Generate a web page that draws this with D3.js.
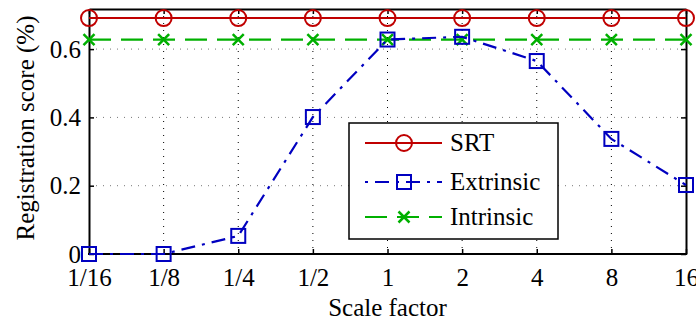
<!DOCTYPE html>
<html><head><meta charset="utf-8">
<script src="https://cdn.jsdelivr.net/npm/d3@7"></script>
<style>body{margin:0;background:#fff}svg{display:block}</style>
</head><body><svg id="c" width="696" height="322"></svg>
<script>
const categories = ["1/16","1/8","1/4","1/2","1","2","4","8","16"];
const srt = [0.691,0.691,0.691,0.691,0.691,0.691,0.691,0.691,0.691];
const extrinsic = [0,0,0.053,0.401,0.628,0.636,0.565,0.337,0.202];
const intrinsic = [0.628,0.628,0.628,0.628,0.628,0.628,0.628,0.628,0.628];
const yTicks = [0,0.2,0.4,0.6];
const seriesNames = ["SRT","Extrinsic","Intrinsic"];
const colors = ["#c00000","#0000c0","#00b000"];
const FONT = "Liberation Serif";
const FS = 25;

const svg = d3.select("#c");
const L=89,R=686,T=9,B=254;
const x = d3.scalePoint().domain(categories).range([L,R]);
const y = d3.scaleLinear().domain([0,0.7174]).range([B,T]);

// grid
const g = svg.append("g");
g.selectAll(".vg").data(categories.slice(1,-1)).join("line")
  .attr("x1",d=>x(d)).attr("x2",d=>x(d)).attr("y1",T).attr("y2",B)
  .attr("stroke","#000").attr("stroke-width",1).attr("stroke-dasharray","1,6");
g.selectAll(".hg").data(yTicks.slice(1)).join("line")
  .attr("x1",L).attr("x2",R).attr("y1",d=>y(d)).attr("y2",d=>y(d))
  .attr("stroke","#777").attr("stroke-width",1).attr("stroke-dasharray","1,6");

// axes
const xa = svg.append("g").attr("transform",`translate(0,${B})`)
  .call(d3.axisBottom(x).tickSizeInner(-5).tickSizeOuter(0).tickPadding(12));
const xt = svg.append("g").attr("transform",`translate(0,${T})`)
  .call(d3.axisTop(x).tickSizeInner(-5).tickSizeOuter(0).tickFormat(""));
const ya = svg.append("g").attr("transform",`translate(${L},0)`)
  .call(d3.axisLeft(y).tickValues(yTicks).tickFormat(d=>d===0?"0":d3.format(".1f")(d)).tickSizeInner(-5).tickSizeOuter(0).tickPadding(8));
const yr = svg.append("g").attr("transform",`translate(${R},0)`)
  .call(d3.axisRight(y).tickValues(yTicks).tickSizeInner(-5).tickSizeOuter(0).tickFormat(""));
[xa,xt,ya,yr].forEach(a=>{a.attr("font-family",FONT).attr("font-size",FS);
  a.select(".domain").attr("stroke","#000").attr("stroke-width",2);
  a.selectAll(".tick line").attr("stroke","#000").attr("stroke-width",1.5);
  a.selectAll("text").attr("fill","#000");});
xa.select(".domain").attr("d",`M${L-1},0H${R+1}`);
ya.selectAll(".tick text").attr("dy","0.33em");
xa.selectAll(".tick text").attr("y",32).attr("dy",0);

svg.append("text").attr("x",(L+R)/2).attr("y",316).attr("text-anchor","middle").attr("font-family",FONT).attr("font-size",FS).text("Scale factor");
svg.append("text").attr("transform",`translate(34,128) rotate(-90)`).attr("text-anchor","middle").attr("font-family",FONT).attr("font-size",FS).text("Registration score (%)");

const dashes = [null,"14,7,3,7","22,10"];
const data = [srt,extrinsic,intrinsic];
const line = d3.line().x((d,i)=>x(categories[i])).y(d=>y(d));
function marker(sel,k,cx,cy){
  if(k===0) sel.append("circle").attr("cx",cx).attr("cy",cy).attr("r",8).attr("fill","none").attr("stroke",colors[0]).attr("stroke-width",2);
  else if(k===1) sel.append("rect").attr("x",cx-7).attr("y",cy-7).attr("width",14).attr("height",14).attr("fill","none").attr("stroke",colors[1]).attr("stroke-width",2);
  else { const s=5.5; sel.append("path").attr("d",`M${cx-s},${cy-s}L${cx+s},${cy+s}M${cx-s},${cy+s}L${cx+s},${cy-s}`).attr("stroke",colors[2]).attr("stroke-width",2.5).attr("fill","none"); }
}
const order=[2,0,1];
order.forEach(k=>{
  svg.append("path").datum(data[k]).attr("d",line).attr("fill","none").attr("stroke",colors[k]).attr("stroke-width",2.2)
    .attr("stroke-dasharray",dashes[k]);
  const mg=svg.append("g");
  data[k].forEach((v,i)=>marker(mg,k,x(categories[i]),y(v)));
});

// legend
const lg = svg.append("g");
lg.append("rect").attr("x",349).attr("y",123).attr("width",209).attr("height",116).attr("fill","#fff").attr("stroke","#000").attr("stroke-width",1.5);
const ly=[143,182,217];
seriesNames.forEach((n,k)=>{
  lg.append("line").attr("x1",365).attr("x2",442).attr("y1",ly[k]).attr("y2",ly[k]).attr("stroke",colors[k]).attr("stroke-width",2.2).attr("stroke-dasharray",k===1?"3,7,14,7":dashes[k]);
  marker(lg,k,404,ly[k]);
  lg.append("text").attr("x",450).attr("y",ly[k]).attr("dy","0.33em").attr("font-family",FONT).attr("font-size",FS).text(n);
});
</script></body></html>
